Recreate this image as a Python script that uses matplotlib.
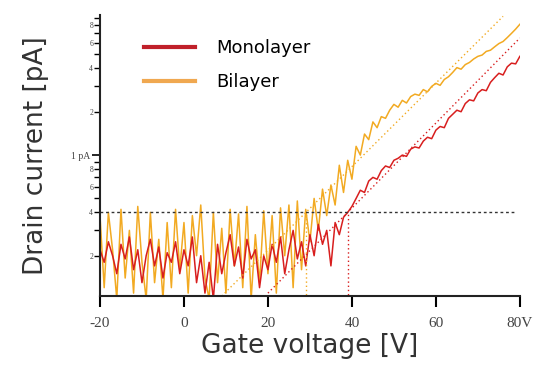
import numpy as np
import matplotlib
matplotlib.use("Agg")
import matplotlib.pyplot as plt
from matplotlib.ticker import FixedLocator, FixedFormatter
from matplotlib.lines import Line2D

# Gate voltage sweep, 1 V steps
gate_v = list(range(-20, 81))

# Drain current [pA]
monolayer = [
    0.22, 0.18, 0.25, 0.20, 0.15, 0.24, 0.19, 0.27, 0.16, 0.22,   # -20..-11
    0.13, 0.20, 0.26, 0.17, 0.23, 0.14, 0.21, 0.18, 0.25, 0.15,   # -10..-1
    0.22, 0.17, 0.27, 0.13, 0.20, 0.11, 0.18, 0.10, 0.24, 0.15,   # 0..9
    0.21, 0.28, 0.17, 0.23, 0.14, 0.26, 0.19, 0.22, 0.12, 0.20,   # 10..19
    0.16, 0.24, 0.18, 0.27, 0.15, 0.22, 0.30, 0.19, 0.25, 0.17,   # 20..29
    0.28, 0.20, 0.33, 0.24, 0.30, 0.17, 0.34, 0.28, 0.37, 0.40,   # 30..39
    0.44, 0.50, 0.57, 0.55, 0.66, 0.70, 0.68, 0.78, 0.84, 0.82,   # 40..49
    0.92, 0.95, 1.00, 0.98, 1.10, 1.14, 1.12, 1.25, 1.33, 1.30,   # 50..59
    1.49, 1.58, 1.55, 1.80, 1.92, 2.05, 2.00, 2.28, 2.42, 2.38,   # 60..69
    2.70, 2.85, 2.80, 3.20, 3.45, 3.70, 3.60, 4.10, 4.35, 4.30,   # 70..79
    4.85,                                                         # 80
]

bilayer = [
    0.38, 0.12, 0.40, 0.22, 0.10, 0.42, 0.14, 0.30, 0.11, 0.44,   # -20..-11
    0.18, 0.10, 0.40, 0.13, 0.26, 0.10, 0.34, 0.12, 0.42, 0.16,   # -10..-1
    0.34, 0.11, 0.38, 0.20, 0.45, 0.14, 0.10, 0.40, 0.13, 0.31,   # 0..9
    0.11, 0.42, 0.17, 0.39, 0.12, 0.44, 0.10, 0.28, 0.13, 0.41,   # 10..19
    0.15, 0.38, 0.11, 0.43, 0.20, 0.45, 0.12, 0.48, 0.16, 0.42,   # 20..29
    0.25, 0.50, 0.30, 0.58, 0.38, 0.62, 0.45, 0.85, 0.55, 0.92,   # 30..39
    0.68, 1.15, 1.00, 1.40, 1.28, 1.70, 1.55, 1.85, 1.80, 2.05,   # 40..49
    2.25, 2.15, 2.40, 2.30, 2.55, 2.65, 2.60, 2.85, 2.75, 3.00,   # 50..59
    3.15, 3.05, 3.35, 3.50, 3.75, 4.05, 3.95, 4.25, 4.40, 4.65,   # 60..69
    4.85, 4.95, 5.25, 5.35, 5.65, 5.95, 6.15, 6.55, 7.00, 7.50,   # 70..79
    8.10,                                                         # 80
]

# exponential fits (end points) and threshold
mono_fit_v = [20, 80]
mono_fit_i = [0.11, 6.5]
bi_fit_v = [9, 76]
bi_fit_i = [0.105, 9.2]
i_thresh = 0.4
vth_mono = 39
vth_bi = 29

red = "#d81e1e"
orange = "#f2aa22"

fig = plt.figure(figsize=(5.39, 3.65), dpi=100)
ax = fig.add_axes([0.1855, 0.189, 0.779, 0.770])

ax.plot(gate_v, bilayer, color=orange, lw=1.1)
ax.plot(gate_v, monolayer, color=red, lw=1.1)

ax.plot(bi_fit_v, bi_fit_i, color=orange, lw=1, ls=(0, (1, 2)))
ax.plot(mono_fit_v, mono_fit_i, color=red, lw=1, ls=(0, (1, 2)))
ax.plot([-20, 79], [i_thresh, i_thresh], color="#333333", lw=1, ls=(0, (2, 2)))
ax.plot([vth_bi, vth_bi], [0.1, i_thresh], color=orange, lw=1, ls=(0, (1, 2)))
ax.plot([vth_mono, vth_mono], [0.1, i_thresh], color=red, lw=1, ls=(0, (1, 2)))

ax.set_yscale("log")
ax.set_xlim(-20, 80)
ax.set_ylim(0.105, 9.4)

for s in ["top", "right"]:
    ax.spines[s].set_visible(False)
for s in ["left", "bottom"]:
    ax.spines[s].set_linewidth(1.5)
    ax.spines[s].set_color("#222222")

# x ticks
xt = [-20, 0, 20, 40, 60, 80]
ax.set_xticks(xt)
ax.set_xticklabels(["-20", "0", "20", "40", "60", "80V"],
                   family="Liberation Serif", fontsize=11, color="#444444")
ax.tick_params(axis="x", direction="out", length=8, width=1.5, pad=7)

# y ticks
minor_vals = [0.2, 0.3, 0.4, 0.5, 0.6, 0.7, 0.8, 0.9, 2, 3, 4, 5, 6, 7, 8, 9]
minor_txt = ["2", "", "4", "", "6", "", "8", "", "2", "", "4", "", "6", "", "8", ""]
ax.yaxis.set_major_locator(FixedLocator([1]))
ax.yaxis.set_major_formatter(FixedFormatter(["1 pA"]))
ax.yaxis.set_minor_locator(FixedLocator(minor_vals))
ax.yaxis.set_minor_formatter(FixedFormatter(minor_txt))
ax.tick_params(axis="y", which="major", direction="out", length=6, width=1.2,
               labelsize=7, pad=1, labelcolor="#444444")
ax.tick_params(axis="y", which="minor", direction="out", length=4, width=1,
               labelsize=5.5, pad=1, labelcolor="#444444")
for lab in ax.get_yticklabels(which="both"):
    lab.set_family("Liberation Serif")

ax.set_xlabel("Gate voltage [V]", fontsize=19, color="#333333", labelpad=2)
ax.set_ylabel("Drain current [pA]", fontsize=19, color="#333333", labelpad=16)

handles = [Line2D([], [], color="#c0202a", lw=3),
           Line2D([], [], color="#f0a850", lw=3)]
ax.legend(handles, ["Monolayer", "Bilayer"], loc="upper left",
          bbox_to_anchor=(0.067, 0.972), frameon=False, fontsize=13,
          handlelength=2.8, handletextpad=1.2, labelspacing=0.88)

fig.savefig("out.png", dpi=100)
